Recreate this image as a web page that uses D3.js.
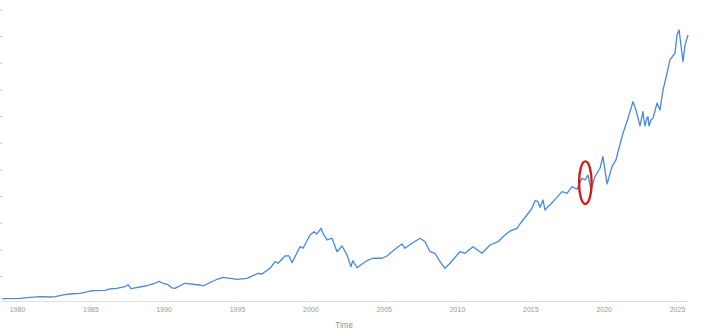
<!DOCTYPE html>
<html>
<head>
<meta charset="utf-8">
<script src="https://cdn.jsdelivr.net/npm/d3@7"></script>
<style>
  body { margin: 0; background: #fff; }
  svg { display: block; font-family: Inter, "Open Sans", sans-serif; }
</style>
</head>
<body>
<div id="chart"></div>
<script>
// values (year, index level)
var years = [1979.0, 1980.2, 1980.9, 1981.57, 1982.25, 1982.6, 1983.27, 1983.6, 1984.3, 1984.98,
  1985.3, 1986.0, 1986.34, 1986.8, 1987.36, 1987.57, 1987.77, 1988.05, 1988.73, 1989.4,
  1989.68, 1989.95, 1990.3, 1990.57, 1990.77, 1991.45, 1992.48, 1992.68, 1993.64, 1994.05,
  1995.0, 1995.68, 1996.43, 1996.7, 1997.25, 1997.6, 1997.8, 1998.27, 1998.55, 1998.75,
  1999.3, 1999.5, 1999.98, 2000.25, 2000.45, 2000.73, 2000.86, 2001.14, 2001.48, 2001.82,
  2002.16, 2002.5, 2002.77, 2002.9, 2003.18, 2003.6, 2003.86, 2004.27, 2004.89, 2005.23,
  2005.64, 2006.25, 2006.45, 2006.93, 2007.48, 2007.82, 2008.16, 2008.5, 2008.84, 2009.18,
  2009.52, 2010.2, 2010.55, 2011.09, 2011.7, 2012.25, 2012.8, 2013.27, 2013.6, 2014.09,
  2014.3, 2014.77, 2015.11, 2015.32, 2015.52, 2015.66, 2015.86, 2016.0, 2016.2, 2016.55,
  2017.16, 2017.5, 2017.84, 2018.18, 2018.52, 2018.73, 2018.93, 2019.14, 2019.4, 2019.75,
  2019.95, 2020.23, 2020.57, 2020.84, 2020.98, 2021.32, 2021.66, 2022.0, 2022.2, 2022.48,
  2022.61, 2022.68, 2022.75, 2022.82, 2022.95, 2023.02, 2023.09, 2023.23, 2023.36, 2023.64,
  2023.84, 2024.05, 2024.32, 2024.52, 2024.86, 2025.0, 2025.14, 2025.41, 2025.55, 2025.75];
var values = [75, 82, 101, 112, 107, 112, 150, 163, 176, 219,
  225, 232, 257, 270, 300, 337, 262, 276, 313, 364,
  401, 364, 337, 276, 270, 364, 332, 313, 439, 476,
  439, 457, 551, 538, 645, 769, 739, 876, 876, 750,
  1050, 1020, 1269, 1331, 1288, 1395, 1301, 1176, 1208, 956,
  1063, 894, 675, 788, 656, 739, 788, 833, 833, 876,
  975, 1101, 1020, 1114, 1208, 1144, 956, 926, 769, 645,
  739, 956, 926, 1050, 926, 1082, 1144, 1269, 1340, 1395,
  1480, 1644, 1770, 1913, 1894, 1789, 1926, 1738, 1800, 1894,
  2081, 2051, 2175, 2126, 2333, 2301, 2394, 2113, 2363, 2520,
  2738, 2226, 2550, 2676, 2831, 3176, 3458, 3769, 3613, 3313,
  3488, 3581, 3426, 3313, 3458, 3488, 3313, 3426, 3458, 3739,
  3613, 3988, 4301, 4551, 4676, 5019, 5113, 4519, 4832, 5019];
var xTicks = [1980, 1985, 1990, 1995, 2000, 2005, 2010, 2015, 2020, 2025];
var yTicks = [500, 1000, 1500, 2000, 2500, 3000, 3500, 4000, 4500, 5000, 5500];
var highlight = {year: 2018.75, lo: 1850, hi: 2650};

var width = 707, height = 329;
var data = years.map(function(y, i) { return {year: y, value: values[i]}; });

var svg = d3.select("#chart").append("svg")
    .attr("width", width)
    .attr("height", height);

var x = d3.scaleLinear().domain([1978.84, 2025.75]).range([0, 688]);
var y = d3.scaleLinear().domain([0, 5500]).range([302.7, 9.3]);

// little left ticks (labels are cut off in the original)
svg.append("g")
    .call(d3.axisRight(y).tickValues(yTicks).tickSize(2).tickFormat(""))
    .call(function(g) { g.select(".domain").remove(); })
    .call(function(g) { g.selectAll("line").attr("stroke", "#c4c4c4"); });

// x axis
var xAxis = svg.append("g")
    .attr("transform", "translate(0,301)")
    .call(d3.axisBottom(x).tickValues(xTicks).tickSize(2).tickSizeOuter(0).tickPadding(4).tickFormat(d3.format("d")));
xAxis.select(".domain").attr("stroke", "#e2e2e2");
xAxis.selectAll("line").attr("stroke", "#e2e2e2");
xAxis.selectAll("text").attr("fill", "#9a9a9a").style("font-size", "7px");

svg.append("text")
    .attr("x", 344)
    .attr("y", 327.5)
    .attr("text-anchor", "middle")
    .attr("fill", "#8a8a8a")
    .style("font-size", "7.5px")
    .text("Time");

// the line
var line = d3.line()
    .x(function(d) { return x(d.year); })
    .y(function(d) { return y(d.value); });

svg.append("path")
    .datum(data)
    .attr("fill", "none")
    .attr("stroke", "#4a88d9")
    .attr("stroke-width", 1.3)
    .attr("stroke-linejoin", "round")
    .attr("d", line);

// red ellipse marking 2018
svg.append("ellipse")
    .attr("cx", x(highlight.year))
    .attr("cy", (y(highlight.lo) + y(highlight.hi)) / 2)
    .attr("rx", 6.3)
    .attr("ry", (y(highlight.lo) - y(highlight.hi)) / 2)
    .attr("fill", "none")
    .attr("stroke", "#d01c1c")
    .attr("stroke-width", 2.4);
</script>
</body>
</html>
